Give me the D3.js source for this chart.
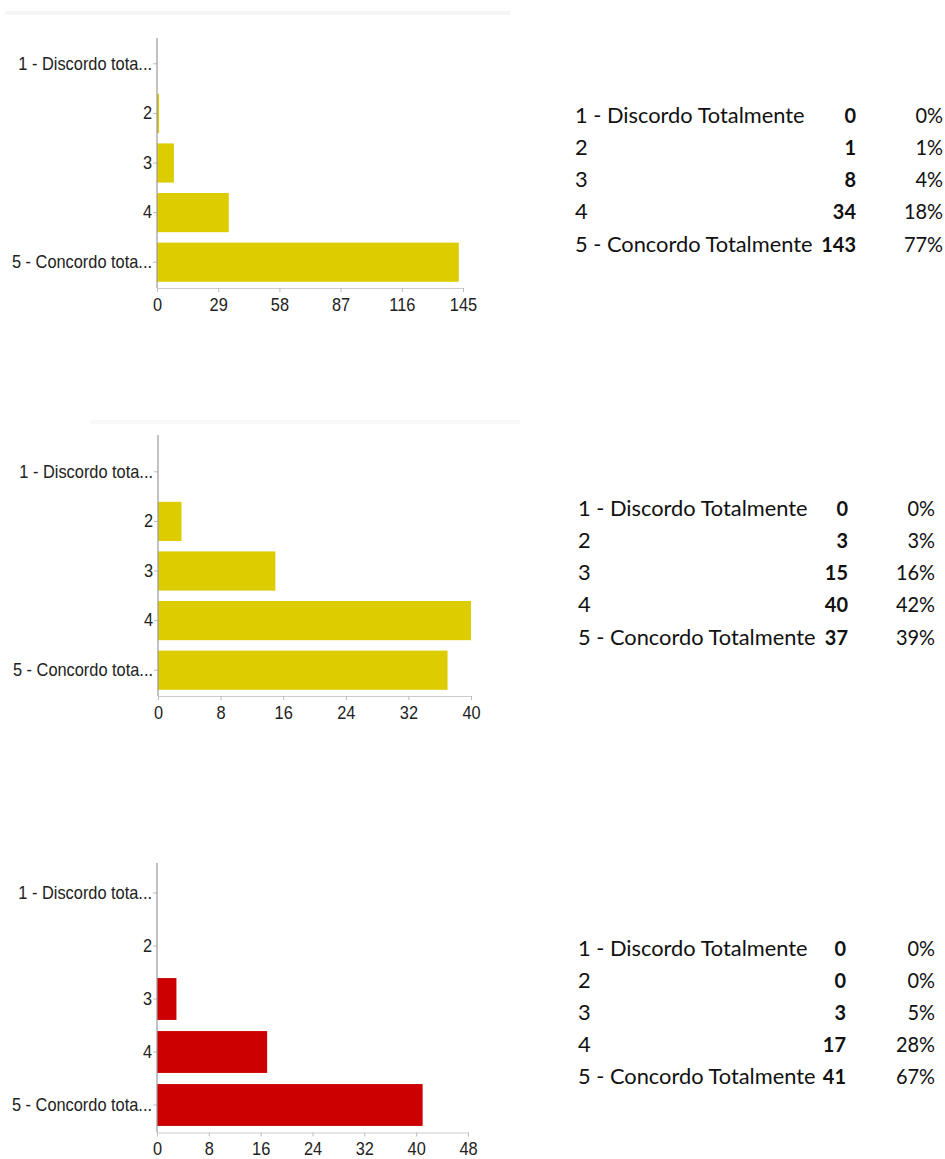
<!DOCTYPE html>
<html>
<head>
<meta charset="utf-8">
<script src="https://cdn.jsdelivr.net/npm/d3@7"></script>
<style>
  html, body { margin: 0; padding: 0; background: #fff; }
  svg { display: block; }
</style>
</head>
<body>
<svg id="chart" width="945" height="1159"></svg>
<script>
// ---- data ----
const categories = ["1 - Discordo Totalmente", "2", "3", "4", "5 - Concordo Totalmente"];
const axisLabels = ["1 - Discordo tota...", "2", "3", "4", "5 - Concordo tota..."];

const counts1 = [0, 1, 8, 34, 143];
const percents1 = ["0%", "1%", "4%", "18%", "77%"];
const ticks1 = [0, 29, 58, 87, 116, 145];

const counts2 = [0, 3, 15, 40, 37];
const percents2 = ["0%", "3%", "16%", "42%", "39%"];
const ticks2 = [0, 8, 16, 24, 32, 40];

const counts3 = [0, 0, 3, 17, 41];
const percents3 = ["0%", "0%", "5%", "28%", "67%"];
const ticks3 = [0, 8, 16, 24, 32, 40, 48];

// ---- layout (positions / styles) ----
const panels = [
  { counts: counts1, percents: percents1, ticks: ticks1, color: "#DDCC00",
    x0: 157, x1: 463, yTop: 39, yBot: 287, axisTop: 38,
    tabX: 575, tabCountX: 856, tabPctX: 943, tabY: [116, 148, 180, 212, 245] },
  { counts: counts2, percents: percents2, ticks: ticks2, color: "#DDCC00",
    x0: 158, x1: 471, yTop: 447, yBot: 695, axisTop: 435,
    tabX: 578, tabCountX: 848, tabPctX: 935, tabY: [509, 541, 573, 605, 638] },
  { counts: counts3, percents: percents3, ticks: ticks3, color: "#CC0000",
    x0: 157, x1: 468, yTop: 866.5, yBot: 1131.5, axisTop: 863,
    tabX: 578, tabCountX: 846, tabPctX: 935, tabY: [949, 981, 1013, 1045, 1077] }
];

const svg = d3.select("#chart");
const chartFont = "'Liberation Sans', Arial, sans-serif";
const tableFont = "Lato, 'Noto Sans', sans-serif";
const squeeze = 0.91;
const chartFontSize = 18;
const tableFontSize = 21;
const labelStretch = 1.04;
const numStretch = 0.95;

// faint remnants of cropped titles
svg.append("rect").attr("x", 5).attr("y", 11).attr("width", 505).attr("height", 4).attr("fill", "#f5f5f5");
svg.append("rect").attr("x", 90).attr("y", 420).attr("width", 430).attr("height", 4).attr("fill", "#f8f8f8");

panels.forEach(p => {
  const g = svg.append("g");
  const xMax = p.ticks[p.ticks.length - 1];
  const x = d3.scaleLinear().domain([0, xMax]).range([p.x0, p.x1]);
  const y = d3.scaleBand().domain(axisLabels).range([p.yTop, p.yBot])
    .paddingInner(0.21).paddingOuter(0.105);

  // bars
  g.selectAll("rect.bar").data(p.counts).join("rect")
    .attr("class", "bar")
    .attr("x", x(0))
    .attr("y", (d, i) => y(axisLabels[i]))
    .attr("width", d => x(d) - x(0))
    .attr("height", y.bandwidth())
    .attr("fill", p.color);

  // y axis
  const yAxis = g.append("g").attr("transform", `translate(${p.x0},0)`)
    .call(d3.axisLeft(y).tickSize(4).tickPadding(3));
  yAxis.select(".domain").remove();
  yAxis.selectAll(".tick line").attr("stroke", "#bbb");
  yAxis.selectAll(".tick text")
    .attr("x", 0)
    .attr("transform", `translate(-5,0) scale(${squeeze},1)`)
    .attr("font-family", chartFont).attr("font-size", chartFontSize).attr("fill", "#222");
  g.append("line").attr("x1", p.x0).attr("x2", p.x0)
    .attr("y1", p.axisTop).attr("y2", p.yBot + 1)
    .attr("stroke", "#999").attr("stroke-width", 1.2);

  // x axis
  const xAxis = g.append("g").attr("transform", `translate(0,${p.yBot + 1})`)
    .call(d3.axisBottom(x).tickValues(p.ticks).tickSize(4).tickPadding(6).tickSizeOuter(0));
  xAxis.select(".domain").attr("stroke", "#ccc");
  xAxis.selectAll(".tick line").attr("stroke", "#bbb");
  xAxis.selectAll(".tick text")
    .attr("x", 0)
    .attr("transform", `scale(${squeeze},1)`)
    .attr("font-family", chartFont).attr("font-size", chartFontSize).attr("fill", "#222");

  // table
  const t = svg.append("g").attr("font-family", tableFont).attr("font-size", tableFontSize).attr("fill", "#111");
  const row = (cls, data, xpos, anchor, weight, stretch) =>
    t.selectAll("text." + cls).data(data).join("text")
      .attr("class", cls)
      .attr("x", 0).attr("y", 0).attr("dy", "0.35em")
      .attr("transform", (d, i) => `translate(${xpos},${p.tabY[i]}) scale(${stretch},1)`)
      .attr("text-anchor", anchor).attr("font-weight", weight)
      .text(d => d);
  row("lab", categories, p.tabX, "start", "normal", labelStretch);
  row("cnt", p.counts, p.tabCountX, "end", "bold", numStretch);
  row("pct", p.percents, p.tabPctX, "end", "normal", numStretch);
});
</script>
</body>
</html>
